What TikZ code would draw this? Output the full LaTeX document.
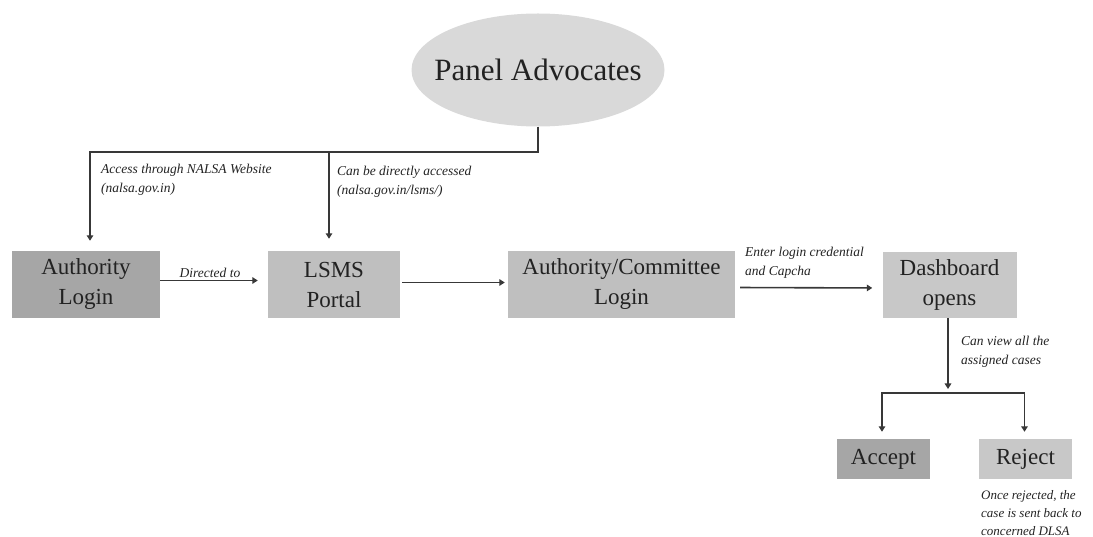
\documentclass[tikz,border=0pt]{standalone}
\usepackage{fontspec}
\setmainfont{Liberation Serif}
\usetikzlibrary{arrows.meta,shapes.geometric,calc}
\definecolor{dark}{HTML}{A6A6A6}
\definecolor{mid}{HTML}{BFBFBF}
\definecolor{light}{HTML}{C8C8C8}
\definecolor{ellfill}{HTML}{D9D9D9}
\definecolor{linec}{HTML}{383838}
\definecolor{txt}{HTML}{222222}
\begin{document}
\begin{tikzpicture}[x=1pt,y=-1pt,
  boxnode/.style={rectangle,inner sep=0pt,align=center,text=txt,
    font=\fontsize{23}{30}\selectfont},
  lbl/.style={inner sep=0pt,align=left,text=txt,
    font=\fontsize{13.5}{19}\selectfont\itshape},
  arr/.style={draw=linec,line width=1.6pt,-{Triangle[width=6.5pt,length=5.5pt]}}]
\useasboundingbox (0,0) rectangle (1093,537);
% nodes
\node[ellipse,fill=ellfill,minimum width=253pt,minimum height=113pt,inner sep=0pt] (ell) at (538,70) {};
\node[text=txt,font=\fontsize{31}{36}\selectfont,inner sep=0pt] (elltext) at (ell.center) {Panel Advocates};
\node[boxnode,fill=dark,minimum width=148pt,minimum height=67pt] (auth) at (86,284.5) {Authority\\Login};
\node[boxnode,fill=mid,minimum width=132pt,minimum height=67pt] (lsms) at (334,284.5) {LSMS\\Portal};
\node[boxnode,fill=mid,minimum width=227pt,minimum height=67pt] (comm) at (621.5,284.5) {Authority/Committee\\Login};
\node[boxnode,fill=light,minimum width=134pt,minimum height=66pt] (dash) at (949.5,285) {Dashboard\\opens};
\node[boxnode,fill=dark,minimum width=93pt,minimum height=40pt] (acc) at (883.5,459) {Accept};
\node[boxnode,fill=light,minimum width=93pt,minimum height=40pt] (rej) at (1025.5,459) {Reject};
% connectors
\coordinate (top) at (538,152);
\draw[arr,shorten >=10pt] (ell.south) -- (top) -| ([xshift=4pt]auth.north);
\draw[arr,shorten >=12pt] ([xshift=-5pt]lsms.north |- top) -- ([xshift=-5pt]lsms.north);
\draw[arr,shorten >=10pt] ([yshift=4pt]auth.east) -- ([yshift=4pt]lsms.west);
\draw[arr,shorten <=2pt,shorten >=3pt] ([yshift=2pt]lsms.east) -- ([yshift=2pt]comm.west);
\draw[arr,shorten <=5pt,shorten >=10pt] ([yshift=-3pt]comm.east) -- ([yshift=-3pt]dash.west);
\coordinate (jd) at (948,393);
\draw[arr,shorten >=4pt] ([xshift=-1.5pt]dash.south) -- (jd);
\draw[arr,shorten >=7pt] (jd) -| ([xshift=-1.5pt]acc.north);
\draw[arr,shorten >=7pt] (jd) -| ([xshift=-1pt]rej.north);
% labels
\node[lbl,anchor=west] (l1) at (101,180) {Access through NALSA Website\\(nalsa.gov.in)};
\node[lbl,anchor=west] (l2) at (337,182) {Can be directly accessed\\(nalsa.gov.in/lsms/)};
\node[lbl,anchor=center] (l3) at (210,273) {Directed to};
\node[lbl,anchor=west] (l4) at (745,263) {Enter login credential\\and Capcha};
\node[lbl,anchor=west] (l5) at (961,352) {Can view all the\\assigned cases};
\node[lbl,anchor=west,font=\fontsize{13}{18}\selectfont\itshape] (l6) at (981,513) {Once rejected, the\\case is sent back to\\concerned DLSA};
\end{tikzpicture}
\end{document}
